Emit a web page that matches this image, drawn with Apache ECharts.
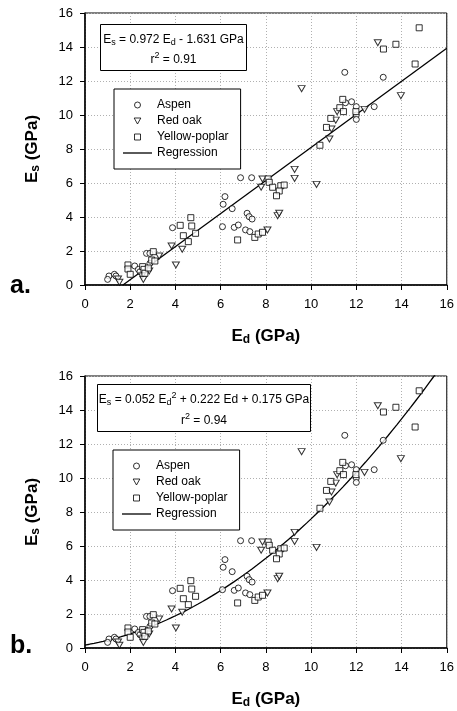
<!DOCTYPE html>
<html>
<head>
<meta charset="utf-8">
<script src="https://cdn.jsdelivr.net/npm/echarts@6/dist/echarts.min.js"></script>
<style>
  html, body { margin: 0; padding: 0; background: #fff; }
  #chart { width: 457px; height: 711px; }
</style>
</head>
<body>
<div id="chart"></div>
<script>
// Static modulus (Es) versus dynamic modulus (Ed), GPa, for three species.
const aspen = [
  [11.49, 12.51], [13.19, 12.22], [11.52, 10.72], [11.79, 10.78], [12.0, 10.49],
  [12.79, 10.49], [12.0, 10.0], [12.0, 9.74],
  [6.88, 6.31], [7.37, 6.31], [6.19, 5.2], [6.11, 4.75], [6.51, 4.49],
  [6.08, 3.43], [6.6, 3.39], [6.78, 3.53], [7.17, 4.22], [7.26, 4.02], [7.39, 3.88],
  [7.1, 3.24], [7.29, 3.14], [3.87, 3.37],
  [1.06, 0.53], [1.0, 0.33], [1.3, 0.63], [1.37, 0.53], [2.2, 1.12], [2.36, 0.92],
  [2.43, 0.78], [2.72, 1.86], [2.87, 1.86], [2.87, 1.27]
];
const redOak = [
  [12.95, 14.25], [9.58, 11.55], [13.97, 11.14], [12.36, 10.33], [11.15, 10.2],
  [11.09, 9.7], [10.9, 9.18], [10.81, 8.59], [9.27, 6.8], [9.27, 6.27],
  [7.85, 6.24], [7.79, 5.75], [10.24, 5.92], [8.07, 3.24], [8.52, 4.08], [8.59, 4.22],
  [3.83, 2.29], [4.3, 2.1], [4.02, 1.18], [1.46, 0.35], [1.52, 0.16],
  [2.52, 0.53], [2.58, 0.33], [2.84, 0.82], [3.28, 1.71]
];
const yellowPoplar = [
  [14.78, 15.13], [13.2, 13.88], [13.75, 14.16], [14.6, 13.0], [11.4, 10.92],
  [11.27, 10.43], [11.43, 10.2], [11.98, 10.2], [10.87, 9.8], [10.68, 9.27],
  [10.39, 8.22], [8.1, 6.24], [8.15, 6.04], [8.3, 5.75], [8.66, 5.84], [8.81, 5.88],
  [8.59, 5.53], [8.47, 5.25], [6.75, 2.65], [7.51, 2.8], [7.66, 3.0], [7.85, 3.1],
  [4.21, 3.51], [4.68, 3.96], [4.72, 3.47], [4.35, 2.9], [4.89, 3.04], [4.57, 2.55],
  [1.9, 1.18], [1.9, 0.94], [2.0, 0.63], [2.55, 1.08], [2.61, 0.92], [2.65, 0.69],
  [3.02, 1.96], [2.95, 1.47], [3.09, 1.41], [2.8, 1.0]
];

// Regression coefficients as printed in the equation boxes
const linearCoef = [0.972, -1.631];          // Es = a*Ed + b
const quadCoef = [0.052, 0.222, 0.175];      // Es = a*Ed^2 + b*Ed + c

const axisMin = 0, axisMax = 16, axisStep = 2;

// Regression lines evaluated from the printed coefficients
const linearLine = [[-linearCoef[1] / linearCoef[0], 0],
                    [axisMax, linearCoef[0] * axisMax + linearCoef[1]]];
const quadLine = [];
for (let x = 0; x <= axisMax + 1e-9; x += 0.2) {
  quadLine.push([x, quadCoef[0] * x * x + quadCoef[1] * x + quadCoef[2]]);
}

const FONT = 'Liberation Sans, Arial, sans-serif';
const triDown = 'path://M0,0L10,0L5,9Z';
const square = 'path://M0,0L10,0L10,10L0,10Z';
const lineIcon = 'path://M0,0L29,0L29,1.3L0,1.3Z';

const markerStyle = { color: '#fff', borderColor: '#000', borderWidth: 1 };

const nameRich = {
  b: { fontFamily: FONT, fontSize: 17, fontWeight: 'bold', color: '#000', lineHeight: 20 },
  sub: { fontFamily: FONT, fontSize: 12, fontWeight: 'bold', color: '#000', lineHeight: 10, verticalAlign: 'bottom' }
};

function axisCommon(gridIndex) {
  return {
    gridIndex, type: 'value', min: axisMin, max: axisMax, interval: axisStep,
    nameLocation: 'middle',
    nameTextStyle: { rich: nameRich },
    axisLine: { show: true, onZero: false, lineStyle: { color: '#000', width: 1.5 } },
    axisTick: { show: true, inside: false, length: 5, lineStyle: { color: '#000', width: 1 } },
    splitLine: { show: true, lineStyle: { color: '#b0b0b0', type: [1, 2], width: 1 } }
  };
}
function axisX(gridIndex) {
  return Object.assign(axisCommon(gridIndex), {
    name: '{b|E}{sub|d}{b| (GPa)}', nameGap: 41,
    axisLabel: { fontFamily: FONT, fontSize: 13, color: '#000', margin: 13 }
  });
}
function axisY(gridIndex) {
  return Object.assign(axisCommon(gridIndex), {
    name: '{b|E}{sub|s}{b| (GPa)}', nameGap: 43,
    axisLabel: { fontFamily: FONT, fontSize: 13, color: '#000', margin: 12 }
  });
}

function panelSeries(idx, lineData) {
  return [
    { name: 'Regression', type: 'line', xAxisIndex: idx, yAxisIndex: idx, data: lineData,
      symbol: 'none', smooth: false, clip: true, z: 2,
      lineStyle: { color: '#000', width: 1.3 }, itemStyle: { color: '#000' } },
    { name: 'Aspen', type: 'scatter', xAxisIndex: idx, yAxisIndex: idx, data: aspen,
      symbol: 'circle', symbolSize: 6, itemStyle: markerStyle, z: 3 },
    { name: 'Red oak', type: 'scatter', xAxisIndex: idx, yAxisIndex: idx, data: redOak,
      symbol: triDown, symbolSize: [7, 6], itemStyle: markerStyle, z: 3 },
    { name: 'Yellow-poplar', type: 'scatter', xAxisIndex: idx, yAxisIndex: idx, data: yellowPoplar,
      symbol: square, symbolSize: 6, itemStyle: markerStyle, z: 3 }
  ];
}

function legendAt(left, top) {
  return {
    orient: 'vertical', left, top,
    data: [
      { name: 'Aspen', icon: 'circle', itemStyle: markerStyle },
      { name: 'Red oak', icon: triDown, itemStyle: markerStyle },
      { name: 'Yellow-poplar', icon: square, itemStyle: markerStyle },
      { name: 'Regression', icon: lineIcon, itemStyle: { color: '#000', borderWidth: 0 } }
    ],
    backgroundColor: '#fff', borderColor: '#000', borderWidth: 1,
    padding: [9, 12, 9, 9], itemWidth: 29, itemHeight: 6, itemGap: 2,
    selectedMode: false,
    textStyle: { fontFamily: FONT, fontSize: 12, color: '#000', lineHeight: 14 }
  };
}

const eqRich = {
  n: { fontFamily: FONT, fontSize: 12, color: '#000', lineHeight: 16 },
  sub: { fontFamily: FONT, fontSize: 9, color: '#000', lineHeight: 8, verticalAlign: 'bottom' },
  sup: { fontFamily: FONT, fontSize: 9, color: '#000', lineHeight: 8, verticalAlign: 'top' }
};

function eqBox(x, y, w, h, line1, line2) {
  return [
    { type: 'rect', shape: { x, y, width: w, height: h },
      style: { fill: '#fff', stroke: '#000', lineWidth: 1 }, z: 10 },
    { type: 'text', x: x + w / 2, y: y + 15, z: 11,
      style: { text: line1, rich: eqRich, align: 'center', verticalAlign: 'middle' } },
    { type: 'text', x: x + w / 2, y: y + h - 11, z: 11,
      style: { text: line2, rich: eqRich, align: 'center', verticalAlign: 'middle' } }
  ];
}

const chart = echarts.init(document.getElementById('chart'), null, { renderer: 'canvas' });
chart.setOption({
  animation: false,
  backgroundColor: '#fff',
  grid: [
    { left: 85, top: 13, width: 362, height: 272, show: true, borderColor: '#000', borderWidth: 1 },
    { left: 85, top: 376, width: 362, height: 272, show: true, borderColor: '#000', borderWidth: 1 }
  ],
  xAxis: [axisX(0), axisX(1)],
  yAxis: [axisY(0), axisY(1)],
  legend: [legendAt(114, 89), legendAt(113, 450)],
  series: [...panelSeries(0, linearLine), ...panelSeries(1, quadLine)],
  graphic: [
    ...eqBox(100.5, 24.5, 146, 46,
      '{n|E}{sub|s}{n| = ' + linearCoef[0].toFixed(3) + ' E}{sub|d}{n| - ' + Math.abs(linearCoef[1]).toFixed(3) + ' GPa}',
      '{n|r}{sup|2}{n| = 0.91}'),
    ...eqBox(97.5, 384.5, 213, 47,
      '{n|E}{sub|s}{n| = ' + quadCoef[0].toFixed(3) + ' E}{sub|d}{sup|2}{n| + ' + quadCoef[1].toFixed(3) +
        ' Ed + ' + quadCoef[2].toFixed(3) + ' GPa}',
      '{n|r}{sup|2}{n| = 0.94}'),
    { type: 'text', x: 10, y: 286, style: { text: 'a.', font: 'bold 25px ' + FONT, fill: '#000', verticalAlign: 'middle' } },
    { type: 'text', x: 10, y: 646, style: { text: 'b.', font: 'bold 25px ' + FONT, fill: '#000', verticalAlign: 'middle' } }
  ]
});
</script>
</body>
</html>
